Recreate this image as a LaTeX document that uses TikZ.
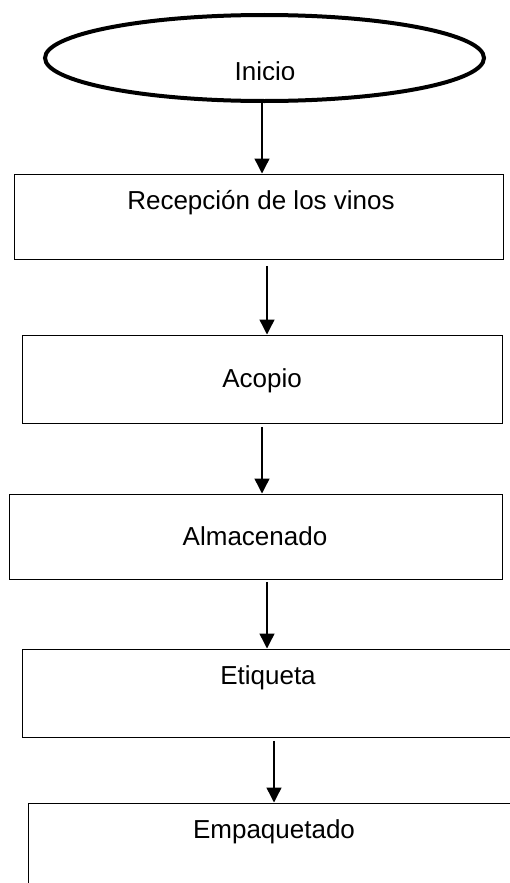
\documentclass[tikz,border=0pt]{standalone}
\usepackage{fontspec}
\setmainfont{Liberation Sans}
\usetikzlibrary{arrows.meta,shapes.geometric}
\tikzset{
  stepbox/.style={draw=black, line width=1.3bp, rectangle, inner sep=0pt, anchor=north west},
  startoval/.style={draw=black, line width=4bp, ellipse, inner sep=0pt, minimum width=439bp, minimum height=86bp},
  lbl/.style={anchor=base, inner sep=0pt, font=\fontsize{26bp}{30bp}\selectfont},
  arr/.style={line width=1.4bp, -{Triangle[width=15bp,length=15bp]}}
}
\begin{document}
\begin{tikzpicture}[x=1bp,y=-1bp]
\useasboundingbox (0,0) rectangle (510,883);
\clip (0,0) rectangle (510,883);
% shapes
\node[startoval] (ini) at (264.5,58) {};
\node[stepbox, minimum width=489bp, minimum height=85bp] (b1) at (13.5,173.5) {};
\node[stepbox, minimum width=480bp, minimum height=88bp] (b2) at (21.5,334.5) {};
\node[stepbox, minimum width=493bp, minimum height=85bp] (b3) at (8.5,493.5) {};
\node[stepbox, minimum width=520bp, minimum height=88bp] (b4) at (21.5,648.5) {};
\node[stepbox, minimum width=520bp, minimum height=120bp] (b5) at (27.5,802.5) {};
% texts
\begin{scope}
\clip (200,40) rectangle (330,79.5);
\node[lbl] (tini) at (265,80) {Inicio};
\end{scope}
\node[lbl] (t1) at (261,209) {Recepción de los vinos};
\node[lbl] (t2) at (262,387) {Acopio};
\node[lbl] (t3) at (255,545) {Almacenado};
\node[lbl] (t4) at (268,684) {Etiqueta};
\node[lbl] (t5) at (274,838) {Empaquetado};
% connector x positions
\coordinate (x1) at (262,0);
\coordinate (x2) at (267,0);
\coordinate (x3) at (262,0);
\coordinate (x4) at (267,0);
\coordinate (x5) at (274,0);
% connectors
\draw[arr] (ini.south -| x1) -- (b1.north -| x1);
\draw[arr, shorten <=6bp] (b1.south -| x2) -- (b2.north -| x2);
\draw[arr, shorten <=3bp] (b2.south -| x3) -- (b3.north -| x3);
\draw[arr, shorten <=2bp] (b3.south -| x4) -- (b4.north -| x4);
\draw[arr, shorten <=3bp] (b4.south -| x5) -- (b5.north -| x5);
\end{tikzpicture}
\end{document}
